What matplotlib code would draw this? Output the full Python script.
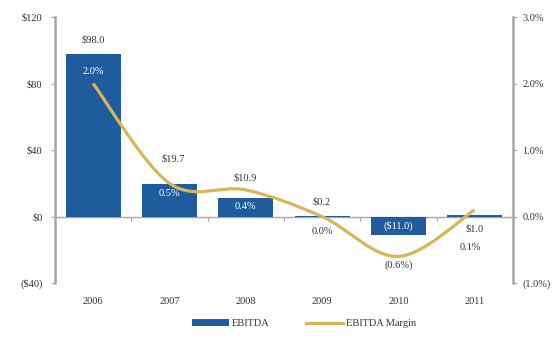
import matplotlib
matplotlib.use("Agg")
import matplotlib.pyplot as plt
from matplotlib.path import Path
from matplotlib.patches import PathPatch, Patch
from matplotlib.lines import Line2D

# ----- data -----
years = ["2006", "2007", "2008", "2009", "2010", "2011"]
ebitda = [98.0, 19.7, 10.9, 0.2, -11.0, 1.0]           # $ millions
margin = [2.0, 0.5, 0.4, 0.0, -0.6, 0.1]                # percent
ebitda_labels = ["$98.0", "$19.7", "$10.9", "$0.2", "($11.0)", "$1.0"]
margin_labels = ["2.0%", "0.5%", "0.4%", "0.0%", "(0.6%)", "0.1%"]

left_ticks = [-40, 0, 40, 80, 120]
left_ticklabels = ["($40)", "$0", "$40", "$80", "$120"]
right_ticks = [-1, 0, 1, 2, 3]
right_ticklabels = ["(1.0%)", "0.0%", "1.0%", "2.0%", "3.0%"]

# ----- styling -----
bar_color = "#1f5c9e"
line_color = "#d9b55a"
axis_grey = "#a6a6a6"
text_col = "#333333"
plt.rcParams["font.family"] = ["Liberation Serif", "DejaVu Serif"]
plt.rcParams["font.size"] = 7.5

# label offsets (points) relative to bar top / line point
ebitda_off = [(0, 10), (3, 18), (0, 15), (0, 10), (0, -12), (0, -10)]
ebitda_in_bar = [False, False, False, False, True, False]
margin_off = [(0, 9), (0, -7), (0, -12), (0, -11), (0, -6), (-3, -27)]
margin_in_bar = [True, True, True, False, False, False]

fig = plt.figure(figsize=(5.55, 3.41), dpi=100)
ax = fig.add_axes([0.099, 0.170, 0.825, 0.780])
ax2 = ax.twinx()

x = list(range(len(years)))
ax.bar(x, ebitda, width=0.72, color=bar_color, zorder=2)
ax.set_xlim(-0.5, len(years) - 0.5)
ax.set_ylim(-40, 120)
ax2.set_ylim(-1, 3)

# zero line across the plot
ax.axhline(0, color=axis_grey, lw=1.0, zorder=1)

# spines
for a in (ax, ax2):
    a.spines["top"].set_visible(False)
    a.spines["bottom"].set_visible(False)
ax.spines["right"].set_visible(False)
ax2.spines["left"].set_visible(False)
ax.spines["left"].set_color(axis_grey)
ax.spines["left"].set_linewidth(1.8)
ax2.spines["right"].set_color(axis_grey)
ax2.spines["right"].set_linewidth(1.8)

ax.set_yticks(left_ticks)
ax.set_yticklabels(left_ticklabels, color=text_col)
ax2.set_yticks(right_ticks)
ax2.set_yticklabels(right_ticklabels, color=text_col)
ax.tick_params(axis="y", length=3, color=axis_grey, pad=6)
ax2.tick_params(axis="y", length=3, color=axis_grey, pad=4)

# year labels at the bottom, no tick marks
ax.set_xticks(x)
ax.set_xticklabels(years, color=text_col)
ax.tick_params(axis="x", length=0, pad=10)

# category boundary ticks on the zero line
zero_pos = (0 - ax.get_ylim()[0]) / (ax.get_ylim()[1] - ax.get_ylim()[0])
sec = ax.secondary_xaxis(zero_pos)
sec.set_xticks([i + 0.5 for i in x[:-1]])
sec.set_xticklabels([])
sec.tick_params(length=3, color=axis_grey)
sec.spines["bottom"].set_visible(False)

# smoothed margin line (Catmull-Rom -> cubic bezier)
pts = list(zip(x, margin))
verts = [pts[0]]
codes = [Path.MOVETO]
for i in range(len(pts) - 1):
    p0 = pts[i - 1] if i > 0 else pts[i]
    p1 = pts[i]
    p2 = pts[i + 1]
    p3 = pts[i + 2] if i + 2 < len(pts) else pts[i + 1]
    c1 = (p1[0] + (p2[0] - p0[0]) / 6, p1[1] + (p2[1] - p0[1]) / 6)
    c2 = (p2[0] - (p3[0] - p1[0]) / 6, p2[1] - (p3[1] - p1[1]) / 6)
    verts += [c1, c2, p2]
    codes += [Path.CURVE4] * 3
ax2.add_patch(PathPatch(Path(verts, codes), facecolor="none",
                        edgecolor=line_color, lw=2.3, zorder=3))

# data labels
for i, (v, lab) in enumerate(zip(ebitda, ebitda_labels)):
    yv = v / 2 if ebitda_in_bar[i] else v
    col = "white" if ebitda_in_bar[i] else text_col
    ax.annotate(lab, (i, yv), xytext=ebitda_off[i] if not ebitda_in_bar[i] else (0, 0),
                textcoords="offset points", ha="center", va="center", color=col)
for i, (m, lab) in enumerate(zip(margin, margin_labels)):
    col = "white" if margin_in_bar[i] else text_col
    ax2.annotate(lab, (i, m), xytext=margin_off[i], textcoords="offset points",
                 ha="center", va="center", color=col, zorder=4)

# legend
handles = [Patch(facecolor=bar_color), Line2D([], [], color=line_color, lw=2.3)]
fig.legend(handles, ["EBITDA", "EBITDA Margin"], loc="lower center",
           bbox_to_anchor=(0.548, 0.01), ncol=2, frameon=False,
           handlelength=3.5, columnspacing=3.5, handletextpad=0.3,
           labelcolor=text_col)

fig.savefig("out.png", dpi=100)
